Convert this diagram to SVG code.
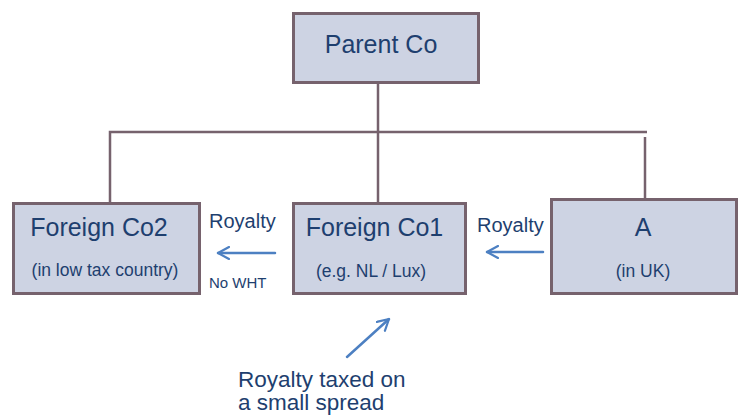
<svg xmlns="http://www.w3.org/2000/svg" width="740" height="419" viewBox="0 0 740 419">
<defs>
<style>
.box{fill:#cdd3e3;stroke:#76626d;stroke-width:3}
.t{font-family:"Liberation Sans",Arial,sans-serif;fill:#1e3f6f}
.big{font-size:25px}
.sub{font-size:17.5px}
.lbl{font-size:20px}
.conn{stroke:#76626d;stroke-width:2.5;fill:none}
.arr{stroke:#4d80c2;stroke-width:2.5;fill:none;stroke-linecap:round}
</style>
<marker id="ah" viewBox="0 0 14 14" refX="12" refY="7" markerWidth="14" markerHeight="14" markerUnits="userSpaceOnUse" orient="auto-start-reverse">
<path d="M1,1 L12,7 L1,13" fill="none" stroke="#4d80c2" stroke-width="2.2" stroke-linecap="round" stroke-linejoin="round"/>
</marker>
</defs>
<rect width="740" height="419" fill="#ffffff"/>
<g id="connectors">
<line class="conn" x1="378" y1="83" x2="378" y2="202"/>
<polyline class="conn" points="110,202 110,132 647,132"/>
<line class="conn" x1="645" y1="137" x2="645" y2="199"/>
<line class="arr" x1="218" y1="253" x2="275" y2="253" marker-start="url(#ah)"/>
<line class="arr" x1="487" y1="252" x2="543" y2="252" marker-start="url(#ah)"/>
<line class="arr" x1="347" y1="357" x2="389" y2="319" marker-end="url(#ah)"/>
</g>
<g id="parent">
<rect class="box" x="293.5" y="13.5" width="185" height="69"/>
<text class="t big" x="381" y="53" text-anchor="middle">Parent Co</text>
</g>
<g id="foreign-co2">
<rect class="box" x="13.5" y="203.5" width="186" height="90"/>
<text class="t big" x="99" y="236" text-anchor="middle">Foreign Co2</text>
<text class="t sub" x="105" y="276" text-anchor="middle">(in low tax country)</text>
</g>
<g id="foreign-co1">
<rect class="box" x="293.5" y="203.5" width="172" height="90"/>
<text class="t big" x="374.5" y="236" text-anchor="middle">Foreign Co1</text>
<text class="t sub" x="371" y="277" text-anchor="middle">(e.g. NL / Lux)</text>
</g>
<g id="a-uk">
<rect class="box" x="551.5" y="199.5" width="185" height="94"/>
<text class="t big" x="643" y="236" text-anchor="middle">A</text>
<text class="t sub" x="643" y="277" text-anchor="middle">(in UK)</text>
</g>
<g id="labels">
<text class="t lbl" x="209" y="228">Royalty</text>
<text class="t" x="209" y="288" font-size="15">No WHT</text>
<text class="t lbl" x="477" y="232">Royalty</text>
<text class="t" x="238" y="387" font-size="22.5">Royalty taxed on</text>
<text class="t" x="238" y="410" font-size="22.5">a small spread</text>
</g>
</svg>
